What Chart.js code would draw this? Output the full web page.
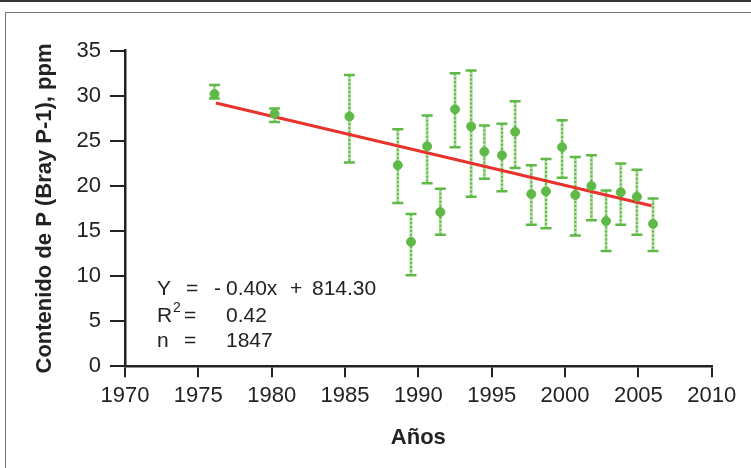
<!DOCTYPE html>
<html>
  <head>
    <title>Contenido de P</title>
    <script src="https://cdn.jsdelivr.net/npm/chart.js"></script>
    <style>
      body {
        margin: 0;
        background-color: #ffffff;
      }
      .page {
        position: relative;
        width: 751px;
        height: 468px;
        overflow: hidden;
      }
      .topline {
        position: absolute;
        left: 0;
        top: 0;
        width: 751px;
        height: 2px;
        background-color: #333333;
      }
      .frame {
        position: absolute;
        left: 5px;
        top: 12px;
        width: 800px;
        height: 500px;
        border: 1.5px solid #777777;
      }
      #chart {
        position: absolute;
        left: 0;
        top: 0;
      }
    </style>
  </head>
  <body>
    <div class="page">
      <div class="topline"></div>
      <div class="frame"></div>
      <canvas id="chart" width="751" height="468"></canvas>
    </div>

    <script>
      // values (year, mean and error bar ends, ppm)
      const years = [
        1976.1, 1980.2, 1985.3, 1988.6, 1989.5, 1990.6, 1991.5, 1992.5, 1993.6,
        1994.5, 1995.7, 1996.6, 1997.7, 1998.7, 1999.8, 2000.7, 2001.8, 2002.8,
        2003.8, 2004.9, 2006.0,
      ];
      const means = [
        30.2, 28.0, 27.7, 22.3, 13.8, 24.4, 17.1, 28.5, 26.6, 23.8, 23.4, 26.0,
        19.1, 19.4, 24.3, 19.0, 20.0, 16.1, 19.3, 18.8, 15.8,
      ];
      const errHigh = [
        31.2, 28.6, 32.3, 26.3, 16.9, 27.8, 19.7, 32.5, 32.8, 26.7, 26.9, 29.4,
        22.3, 23.0, 27.3, 23.2, 23.4, 19.5, 22.5, 21.8, 18.6,
      ];
      const errLow = [
        29.7, 27.1, 22.6, 18.1, 10.1, 20.3, 14.6, 24.3, 18.8, 20.8, 19.4, 22.0,
        15.7, 15.3, 20.9, 14.5, 16.2, 12.8, 15.7, 14.6, 12.8,
      ];
      // regression line end points
      const trendYears = [1976.2, 2005.9];
      const trendValues = [29.2, 17.8];

      const fontFamily = "'Liberation Sans', Arial, sans-serif";
      const ink = "#222222";
      const green = "#5fb946";

      // dashed vertical error bars with caps
      const errorBars = {
        id: "errorBars",
        beforeDatasetsDraw(chart) {
          const ctx = chart.ctx;
          const xs = chart.scales.x;
          const ys = chart.scales.y;
          ctx.save();
          for (let i = 0; i < years.length; i++) {
            const px = xs.getPixelForValue(years[i]);
            const top = ys.getPixelForValue(errHigh[i]);
            const bot = ys.getPixelForValue(errLow[i]);
            ctx.setLineDash([]);
            ctx.strokeStyle = "rgba(130, 205, 105, 0.6)";
            ctx.lineWidth = 3;
            ctx.beginPath();
            ctx.moveTo(px, top);
            ctx.lineTo(px, bot);
            ctx.stroke();
            ctx.setLineDash([2, 2]);
            ctx.strokeStyle = green;
            ctx.lineWidth = 2;
            ctx.beginPath();
            ctx.moveTo(px, top);
            ctx.lineTo(px, bot);
            ctx.stroke();
            ctx.setLineDash([]);
            ctx.strokeStyle = green;
            ctx.lineWidth = 2.5;
            ctx.beginPath();
            ctx.moveTo(px - 5.5, top);
            ctx.lineTo(px + 5.5, top);
            ctx.moveTo(px - 5.5, bot);
            ctx.lineTo(px + 5.5, bot);
            ctx.stroke();
          }
          ctx.restore();
        },
      };

      // regression text in the lower left corner
      const equation = {
        id: "equation",
        afterDraw(chart) {
          const ctx = chart.ctx;
          ctx.save();
          ctx.fillStyle = ink;
          ctx.textBaseline = "alphabetic";
          ctx.font = "21px " + fontFamily;
          ctx.textAlign = "left";
          ctx.fillText("Y", 157, 295);
          ctx.fillText("=", 186, 295);
          ctx.fillText("-", 214, 295);
          ctx.fillText("0.40x", 226, 295);
          ctx.fillText("+", 290, 295);
          ctx.fillText("814.30", 312, 295);

          ctx.fillText("R", 157, 322);
          ctx.fillText("=", 184, 322);
          ctx.fillText("0.42", 226, 322);
          ctx.font = "14px " + fontFamily;
          ctx.fillText("2", 173, 312);

          ctx.font = "21px " + fontFamily;
          ctx.fillText("n", 157, 347);
          ctx.fillText("=", 184, 347);
          ctx.fillText("1847", 226, 347);
          ctx.restore();
        },
      };

      const ctx = document.getElementById("chart").getContext("2d");

      const chart = new Chart(ctx, {
        type: "scatter",
        data: {
          datasets: [
            {
              label: "P",
              data: years.map((yr, i) => ({ x: yr, y: means[i] })),
              backgroundColor: green,
              borderColor: green,
              pointRadius: 4.5,
              pointHoverRadius: 4.5,
              order: 0,
            },
            {
              type: "line",
              label: "Tendencia",
              data: trendYears.map((yr, i) => ({ x: yr, y: trendValues[i] })),
              borderColor: "#e8322c",
              borderWidth: 3,
              pointRadius: 0,
              fill: false,
              order: 1,
            },
          ],
        },
        options: {
          responsive: false,
          animation: false,
          devicePixelRatio: 1,
          layout: {
            padding: { left: 0, right: 39.3, top: 50.7, bottom: 0 },
          },
          plugins: {
            legend: { display: false },
            tooltip: { enabled: false },
          },
          scales: {
            x: {
              type: "linear",
              min: 1970,
              max: 2010,
              afterFit(scale) {
                scale.height = 101.7;
              },
              ticks: {
                stepSize: 5,
                color: ink,
                padding: 5,
                maxRotation: 0,
                font: { family: fontFamily, size: 22 },
                callback: (v) => String(v),
              },
              grid: {
                drawOnChartArea: false,
                drawTicks: true,
                tickLength: 11,
                color: ink,
                lineWidth: 2,
              },
              border: { color: ink, width: 2.5 },
              title: {
                display: true,
                text: "Años",
                color: ink,
                font: { family: fontFamily, size: 22, weight: "bold" },
                padding: { top: 0, bottom: 17 },
              },
            },
            y: {
              min: 0,
              max: 35,
              afterFit(scale) {
                scale.width = 125;
              },
              ticks: {
                stepSize: 5,
                color: ink,
                padding: 9,
                font: { family: fontFamily, size: 22 },
              },
              grid: {
                drawOnChartArea: false,
                drawTicks: true,
                tickLength: 15,
                color: ink,
                lineWidth: 2,
              },
              border: { color: ink, width: 2.5 },
              title: {
                display: true,
                text: "Contenido de P (Bray P-1), ppm",
                color: ink,
                font: { family: fontFamily, size: 22, weight: "bold" },
                padding: { top: 32, bottom: 0 },
              },
            },
          },
        },
        plugins: [errorBars, equation],
      });
    </script>
  </body>
</html>
